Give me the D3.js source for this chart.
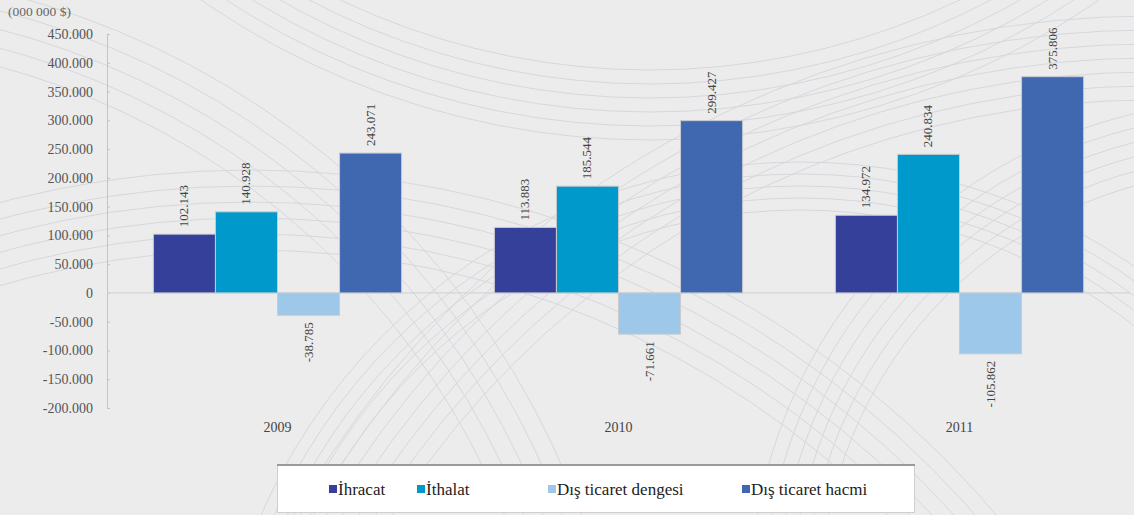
<!DOCTYPE html>
<html><head><meta charset="utf-8">
<script src="https://cdn.jsdelivr.net/npm/d3@7/dist/d3.min.js"></script>
<style>
html,body{margin:0;padding:0;background:#ececec;}
svg{display:block;}
svg text{font-family:"Liberation Serif","Times New Roman",Times,"DejaVu Serif",serif !important;}
</style></head>
<body>
<svg id="chart" width="1134" height="515"></svg>
<script>
const years = ["2009", "2010", "2011"];
const seriesNames = ["İhracat", "İthalat", "Dış ticaret dengesi", "Dış ticaret hacmi"];
const ihracat = [102143, 113883, 134972];
const ithalat = [140928, 185544, 240834];
const denge = [-38785, -71661, -105862];
const hacim = [243071, 299427, 375806];
const yTicks = [450000, 400000, 350000, 300000, 250000, 200000, 150000, 100000, 50000, 0, -50000, -100000, -150000, -200000];
const colors = ["#35409a", "#0099cc", "#9ec8ea", "#4068b0"];

(function () {
const seriesValues = [ihracat, ithalat, denge, hacim];
const svg = d3.select("#chart");

// decorative background curves
const deco = svg.append("g").attr("fill", "none").attr("stroke", "#d6d8dd").attr("stroke-width", 1);
const decoSets = [
  {cx: 1150, cy: 1000, r0: 900, n: 7, dr: 14},
  {cx: 250, cy: 1150, r0: 900, n: 6, dr: 16},
  {cx: 1250, cy: 600, r0: 430, n: 6, dr: 14},
  {cx: 650, cy: -650, r0: 720, n: 6, dr: 14},
  {cx: -200, cy: 800, r0: 760, n: 5, dr: 18},
  {cx: 800, cy: 750, r0: 540, n: 5, dr: 12}
];
decoSets.forEach(s => {
  d3.range(s.n).forEach(i => {
    deco.append("circle").attr("cx", s.cx).attr("cy", s.cy).attr("r", s.r0 + i * s.dr);
  });
});

const mL = 107, mR = 1130, mT = 34, mB = 408;
const y = d3.scaleLinear().domain([-200000, 450000]).range([mB, mT]);
const x0 = d3.scaleBand().domain(years).range([mL, mR]).paddingInner(0.272).paddingOuter(0.136);
const x1 = d3.scaleBand().domain(d3.range(seriesNames.length)).range([0, x0.bandwidth()]);

const loc = d3.formatLocale({decimal: ",", thousands: ".", grouping: [3], currency: ["", "$"], minus: "-"});
const fmt = loc.format(",d");

// y axis
const yAxis = d3.axisLeft(y).tickValues(yTicks).tickFormat(fmt).tickSize(-3).tickPadding(14);
const ga = svg.append("g").attr("transform", `translate(${mL},0)`).call(yAxis);
ga.attr("font-family", null);
ga.select(".domain").attr("stroke", "#c4c4c4");
ga.selectAll(".tick line").attr("stroke", "#c4c4c4");
ga.selectAll(".tick text").attr("fill", "#555").attr("font-size", 14);

// zero line
svg.append("line").attr("x1", mL).attr("x2", mR).attr("y1", y(0)).attr("y2", y(0))
  .attr("stroke", "#cfcfcf");

// bars
const groups = svg.append("g").selectAll("g").data(years).join("g")
  .attr("transform", d => `translate(${x0(d)},0)`);
groups.each(function(yr, yi) {
  const g = d3.select(this);
  seriesValues.forEach((vals, si) => {
    const v = vals[yi];
    g.append("rect")
      .attr("x", x1(si)).attr("width", x1.bandwidth())
      .attr("y", Math.min(y(v), y(0))).attr("height", Math.abs(y(v) - y(0)))
      .attr("fill", colors[si]).attr("stroke", "#c9cbd0").attr("stroke-width", 1);
    const cx = x1(si) + x1.bandwidth() / 2 + 4;
    const py = v >= 0 ? y(v) - 7 : y(v) + 7;
    g.append("text")
      .attr("transform", `translate(${cx},${py}) rotate(-90)`)
      .attr("text-anchor", v >= 0 ? "start" : "end")
      .attr("font-size", 13).attr("fill", "#444")
      .text(fmt(v));
  });
});

// category labels
svg.append("g").selectAll("text").data(years).join("text")
  .attr("x", d => x0(d) + x0.bandwidth() / 2).attr("y", 432)
  .attr("text-anchor", "middle").attr("font-size", 14).attr("fill", "#444")
  .text(d => d);

// y title
svg.append("text").attr("x", 8).attr("y", 16).attr("font-size", 13.5).attr("fill", "#666").text("(000 000 $)");

// legend
const lg = svg.append("g");
lg.append("rect").attr("x", 277.5).attr("y", 464.5).attr("width", 637).attr("height", 48)
  .attr("fill", "#fff").attr("stroke", "#cfcfcf");
lg.append("line").attr("x1", 277).attr("x2", 915).attr("y1", 465).attr("y2", 465).attr("stroke", "#9a9a9a").attr("stroke-width", 2);
const legendX = [329, 417, 548, 742];
seriesNames.forEach((n, i) => {
  lg.append("rect").attr("x", legendX[i]).attr("y", 485).attr("width", 8).attr("height", 8).attr("fill", colors[i]);
  lg.append("text").attr("x", legendX[i] + 9).attr("y", 495).attr("font-size", 17).attr("fill", "#222").text(n);
});
})();
</script>
</body></html>
